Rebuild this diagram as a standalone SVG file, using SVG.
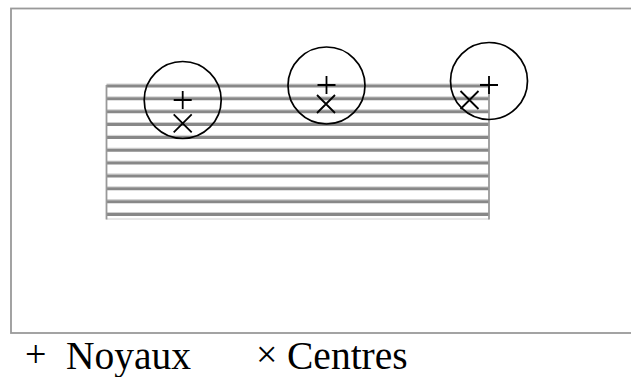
<svg xmlns="http://www.w3.org/2000/svg" width="631" height="377" viewBox="0 0 631 377">
<style>
.frame{fill:none;stroke:#999;stroke-width:1.8}
.dark{stroke:#888;stroke-width:3}
.light{stroke:#d0d0d0;stroke-width:1}
.edge{stroke:#999;stroke-width:1.8;fill:none}
.circ{fill:none;stroke:#000;stroke-width:1.7}
.mk{stroke:#000;stroke-width:1.8;fill:none}
.leg{font-family:"Liberation Serif","Times New Roman",serif;font-size:39.5px;fill:#000}
.sym{font-family:"Liberation Serif","Times New Roman",serif;font-size:38px;fill:#000}
</style>
<rect width="631" height="377" fill="#fff"/>
<rect class="frame" x="11" y="8.5" width="640" height="324.5"/>
<g id="stripes">
<g class="light">
<line x1="106.5" y1="84" x2="489" y2="84"/>
<line x1="106.5" y1="96.8" x2="489" y2="96.8"/>
<line x1="106.5" y1="109.7" x2="489" y2="109.7"/>
<line x1="106.5" y1="122.5" x2="489" y2="122.5"/>
<line x1="106.5" y1="135.4" x2="489" y2="135.4"/>
<line x1="106.5" y1="148.2" x2="489" y2="148.2"/>
<line x1="106.5" y1="161.1" x2="489" y2="161.1"/>
<line x1="106.5" y1="173.9" x2="489" y2="173.9"/>
<line x1="106.5" y1="186.8" x2="489" y2="186.8"/>
<line x1="106.5" y1="199.6" x2="489" y2="199.6"/>
<line x1="106.5" y1="212.5" x2="489" y2="212.5"/>
<line x1="106.5" y1="219" x2="489" y2="219"/>
</g>
<g class="dark">
<line x1="106.5" y1="86" x2="489" y2="86"/>
<line x1="106.5" y1="98.85" x2="489" y2="98.85"/>
<line x1="106.5" y1="111.7" x2="489" y2="111.7"/>
<line x1="106.5" y1="124.55" x2="489" y2="124.55"/>
<line x1="106.5" y1="137.4" x2="489" y2="137.4"/>
<line x1="106.5" y1="150.25" x2="489" y2="150.25"/>
<line x1="106.5" y1="163.1" x2="489" y2="163.1"/>
<line x1="106.5" y1="175.95" x2="489" y2="175.95"/>
<line x1="106.5" y1="188.8" x2="489" y2="188.8"/>
<line x1="106.5" y1="201.65" x2="489" y2="201.65"/>
<line x1="106.5" y1="214.5" x2="489" y2="214.5"/>
</g>
<line class="edge" x1="106.5" y1="85" x2="106.5" y2="219.5"/>
<line class="edge" x1="489" y1="85" x2="489" y2="219.5"/>
</g>
<g id="cell1">
<circle class="circ" cx="182.7" cy="100" r="38.5"/>
<path class="mk" d="M173.7 100H191.7M182.7 91V109"/>
<path class="mk" d="M173.7 114.3L191.7 132.3M173.7 132.3L191.7 114.3"/>
</g>
<g id="cell2">
<circle class="circ" cx="326.5" cy="85.5" r="38.5"/>
<path class="mk" d="M317.5 85H335.5M326.5 76V94"/>
<path class="mk" d="M317 95L335 113M317 113L335 95"/>
</g>
<g id="cell3">
<circle class="circ" cx="489" cy="81" r="38.5"/>
<path class="mk" d="M480 85H498M489 76V94"/>
<path class="mk" d="M460.5 91L478.5 109M460.5 109L478.5 91"/>
</g>
<g id="legend">
<text class="sym" x="25" y="367">+</text>
<text class="leg" x="66" y="369">Noyaux</text>
<text class="sym" x="256" y="367">×</text>
<text class="leg" x="287" y="369">Centres</text>
</g>
</svg>
